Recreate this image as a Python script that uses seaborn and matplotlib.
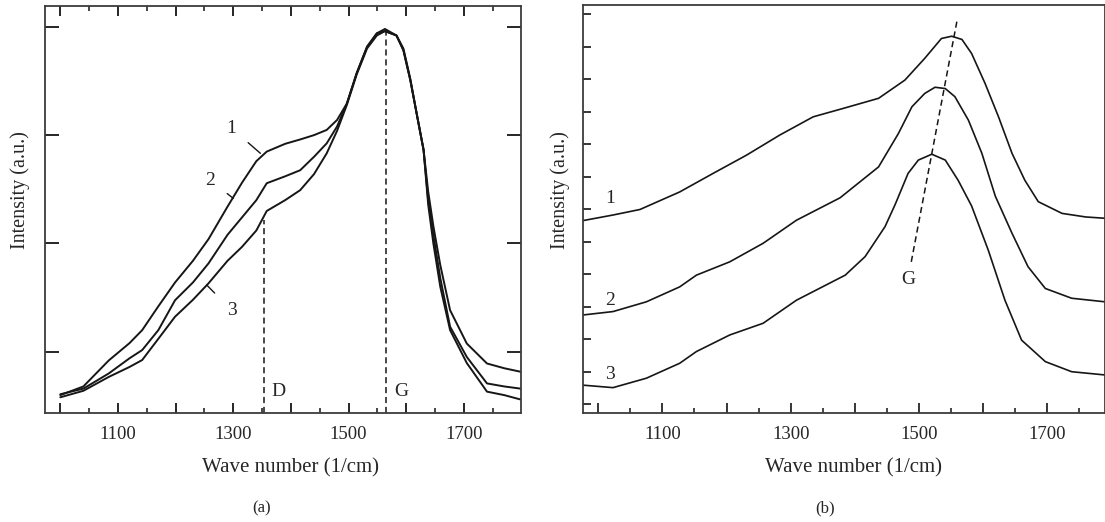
import matplotlib
matplotlib.use("Agg")
import matplotlib.pyplot as plt
import seaborn as sns
import pandas as pd
from matplotlib.ticker import MultipleLocator, FixedLocator

# ---- panel (a): normalised Raman spectra, curves 1-3 ----
a_wave = [1000, 1040, 1084, 1120, 1142, 1170, 1199, 1230, 1257, 1290, 1315, 1340,
          1358, 1390, 1416, 1440, 1462, 1480, 1497, 1514, 1532, 1549, 1563, 1583,
          1595, 1607, 1618, 1630, 1638, 1647, 1659, 1676, 1705, 1740, 1770, 1798]
a_int1 = [0.15, 0.17, 0.23, 0.27, 0.30, 0.355, 0.41, 0.46, 0.51, 0.585, 0.64, 0.69,
          0.712, 0.73, 0.74, 0.75, 0.762, 0.785, 0.823, 0.893, 0.954, 0.985, 0.995, 0.98,
          0.95, 0.88, 0.80, 0.716, 0.62, 0.54, 0.45, 0.346, 0.269, 0.223, 0.212, 0.204]
a_int2 = [0.152, 0.165, 0.20, 0.235, 0.254, 0.30, 0.369, 0.41, 0.454, 0.52, 0.56, 0.60,
          0.639, 0.655, 0.669, 0.70, 0.731, 0.77, 0.823, 0.893, 0.954, 0.985, 0.99, 0.98,
          0.946, 0.877, 0.80, 0.716, 0.60, 0.52, 0.42, 0.308, 0.238, 0.177, 0.17, 0.165]
a_int3 = [0.145, 0.16, 0.192, 0.215, 0.231, 0.28, 0.331, 0.37, 0.408, 0.46, 0.492, 0.53,
          0.575, 0.60, 0.623, 0.66, 0.708, 0.76, 0.82, 0.89, 0.95, 0.98, 0.99, 0.98,
          0.946, 0.877, 0.80, 0.716, 0.59, 0.50, 0.40, 0.30, 0.224, 0.158, 0.15, 0.14]
a_peak_x = {"D": 1354, "G": 1564}
a_peak_top = {"D": 0.555, "G": 0.995}

# ---- panel (b): vertically offset spectra, curves 1-3 ----
b1_wave = [974, 1023, 1065, 1127, 1179, 1231, 1283, 1335, 1382, 1437, 1478, 1509,
           1535, 1551, 1567, 1582, 1603, 1624, 1645, 1665, 1686, 1723, 1760, 1790]
b1_int = [5.64, 5.82, 5.99, 6.53, 7.10, 7.66, 8.28, 8.84, 9.10, 9.41, 9.97, 10.64,
          11.25, 11.32, 11.22, 10.79, 9.87, 8.84, 7.72, 6.89, 6.23, 5.87, 5.76, 5.72]
b2_wave = [974, 1023, 1075, 1127, 1153, 1205, 1257, 1309, 1377, 1437, 1468, 1489,
           1509, 1525, 1541, 1556, 1577, 1598, 1619, 1645, 1670, 1697, 1738, 1790]
b2_int = [2.74, 2.85, 3.15, 3.61, 3.97, 4.38, 4.95, 5.66, 6.35, 7.30, 8.33, 9.15,
          9.56, 9.75, 9.71, 9.46, 8.74, 7.72, 6.40, 5.26, 4.23, 3.56, 3.26, 3.15]
b3_wave = [974, 1023, 1075, 1127, 1153, 1205, 1257, 1309, 1385, 1416, 1447, 1463,
           1483, 1499, 1520, 1541, 1561, 1582, 1608, 1634, 1660, 1697, 1738, 1790]
b3_int = [0.59, 0.51, 0.80, 1.26, 1.62, 2.13, 2.49, 3.20, 3.97, 4.54, 5.46, 6.15,
          7.10, 7.51, 7.69, 7.51, 6.89, 6.10, 4.74, 3.20, 1.97, 1.31, 1.00, 0.90]
b_shift_x = [1488, 1560]
b_shift_y = [4.38, 11.87]

LINE = "#161616"
sns.set_style("ticks")
plt.rcParams["font.family"] = ["Liberation Serif", "DejaVu Serif"]
plt.rcParams["font.size"] = 13.5

fig = plt.figure(figsize=(11.05, 5.22), dpi=100)
ax1 = fig.add_axes([0.0405, 0.2082, 0.431, 0.7803])
ax2 = fig.add_axes([0.5273, 0.2082, 0.4727, 0.7822])

xt_major = [1000, 1100, 1200, 1300, 1400, 1500, 1600, 1700]
xt_labels = ["", "1100", "", "1300", "", "1500", "", "1700"]

# panel (a)
n = len(a_wave)
df_a = pd.DataFrame({"wave": a_wave * 3,
                     "val": a_int1 + a_int2 + a_int3,
                     "s": ["1"] * n + ["2"] * n + ["3"] * n})
sns.lineplot(data=df_a, x="wave", y="val", hue="s", palette=[LINE] * 3,
             lw=1.4, legend=False, ax=ax1, estimator=None, sort=False)

ax1.set_xlim(973, 1799)
ax1.set_ylim(0.108, 1.048)
ax1.xaxis.set_major_locator(FixedLocator(xt_major))
ax1.xaxis.set_minor_locator(MultipleLocator(50))
ax1.set_xticklabels(xt_labels)
ax1.yaxis.set_major_locator(MultipleLocator(0.25))
ax1.yaxis.set_minor_locator(FixedLocator([]))
ax1.set_yticklabels([])
ax1.tick_params(which="major", direction="in", length=7, width=1.4,
                top=True, right=True, labelsize=13.5, pad=9)
ax1.tick_params(which="minor", direction="in", length=3.5, width=1.2, top=True)
ax1.tick_params(axis="y", which="major", length=10)
ax1.set_xlabel("Wave number (1/cm)", fontsize=15, va="center")
ax1.set_ylabel("Intensity (a.u.)", fontsize=14.5, va="center")
ax1.xaxis.set_label_coords(0.517, -0.134)
ax1.yaxis.set_label_coords(-0.0527, 0.548)

for key in ("D", "G"):
    ax1.plot([a_peak_x[key]] * 2, [0.108, a_peak_top[key]], ls=(0, (4, 2.5)),
             color=LINE, lw=1.1)
ax1.text(1379, 0.158, "D", fontsize=14, ha="center", va="center")
ax1.text(1592, 0.158, "G", fontsize=14, ha="center", va="center")

ax1.annotate("1", xy=(1347, 0.708), xytext=(1297, 0.766), fontsize=14,
             ha="center", va="center",
             arrowprops=dict(arrowstyle="-", color=LINE, lw=1, shrinkA=8, shrinkB=0))
ax1.annotate("2", xy=(1300, 0.604), xytext=(1260, 0.646), fontsize=14,
             ha="center", va="center",
             arrowprops=dict(arrowstyle="-", color=LINE, lw=1, shrinkA=8, shrinkB=0))
ax1.annotate("3", xy=(1254, 0.404), xytext=(1297, 0.346), fontsize=14,
             ha="center", va="center",
             arrowprops=dict(arrowstyle="-", color=LINE, lw=1, shrinkA=9, shrinkB=0))

# panel (b)
df_b = pd.DataFrame({"wave": b1_wave + b2_wave + b3_wave,
                     "val": b1_int + b2_int + b3_int,
                     "s": ["1"] * len(b1_wave) + ["2"] * len(b2_wave) + ["3"] * len(b3_wave)})
sns.lineplot(data=df_b, x="wave", y="val", hue="s", palette=[LINE] * 3,
             lw=1.2, legend=False, ax=ax2, estimator=None, sort=False)
ax2.plot(b_shift_x, b_shift_y, ls=(0, (4, 2.5)), color=LINE, lw=1.1)
ax2.text(1483, 3.85, "G", fontsize=14, ha="center", va="center")
for lab, yy in zip(["1", "2", "3"], [6.33, 3.2, 0.9]):
    ax2.text(1018, yy, lab, fontsize=14, ha="center", va="center")

ax2.set_xlim(975.7, 1790)
ax2.set_ylim(-0.28, 12.28)
ax2.xaxis.set_major_locator(FixedLocator(xt_major))
ax2.set_xticklabels(xt_labels)
ax2.xaxis.set_minor_locator(MultipleLocator(50))
ax2.yaxis.set_major_locator(MultipleLocator(1))
ax2.yaxis.set_minor_locator(FixedLocator([]))
ax2.set_yticklabels([])
ax2.tick_params(which="major", direction="in", length=7, width=1.3,
                labelsize=13.5, pad=9)
ax2.tick_params(which="minor", direction="in", length=3.5, width=1.2)
ax2.tick_params(axis="y", length=6)
ax2.set_xlabel("Wave number (1/cm)", fontsize=15, va="center")
ax2.set_ylabel("Intensity (a.u.)", fontsize=14.5, va="center")
ax2.xaxis.set_label_coords(0.518, -0.134)
ax2.yaxis.set_label_coords(-0.0435, 0.547)

for ax in (ax1, ax2):
    for sp in ax.spines.values():
        sp.set_color("#3c3c3c")
        sp.set_linewidth(1.3)

fig.text(262 / 1105, 1 - 508 / 522, "(a)", fontsize=12, ha="center", va="center")
fig.text(825 / 1105, 1 - 508 / 522, "(b)", fontsize=12, ha="center", va="center")

fig.savefig("out.png", dpi=100)
